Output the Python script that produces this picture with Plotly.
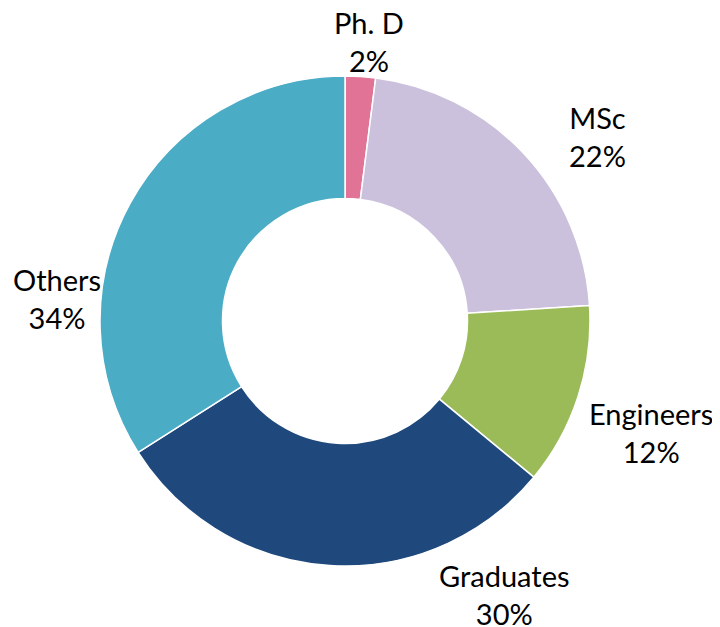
import plotly.graph_objects as go

labels = ["Ph. D", "MSc", "Engineers", "Graduates", "Others"]
values = [2, 22, 12, 30, 34]
colors = ["#E07396", "#CBC1DD", "#9BBB59", "#1F497D", "#4BACC6"]

W, H = 720, 627
OFF = 8  # page body margin in the browser
cx, cy, r = 345 - OFF, 321 - OFF, 245

# label block centres (pixels from top-left of the window), layout only
label_pos = [(369, 42), (597, 136), (651, 432), (504, 594), (57, 298)]

fig = go.Figure(go.Pie(
    labels=labels,
    values=values,
    hole=0.5,
    sort=False,
    direction="clockwise",
    rotation=0,
    marker=dict(colors=colors, line=dict(color="white", width=1.5)),
    textinfo="none",
    hoverinfo="label+percent",
    showlegend=False,
    domain=dict(x=[(cx - r) / W, (cx + r) / W], y=[(H - cy - r) / H, (H - cy + r) / H]),
))

total = sum(values)
for lab, v, (px, py) in zip(labels, values, label_pos):
    fig.add_annotation(
        x=(px - OFF) / W, y=1 - (py - OFF) / H, xref="paper", yref="paper",
        xanchor="center", yanchor="middle",
        text=f"{lab}<br>{round(100 * v / total)}%",
        showarrow=False,
        font=dict(family="Lato", size=29, color="black"),
    )

fig.update_layout(
    width=W, height=H,
    margin=dict(l=0, r=0, t=0, b=0),
    paper_bgcolor="white",
    plot_bgcolor="white",
)
fig.write_html("out.html")
